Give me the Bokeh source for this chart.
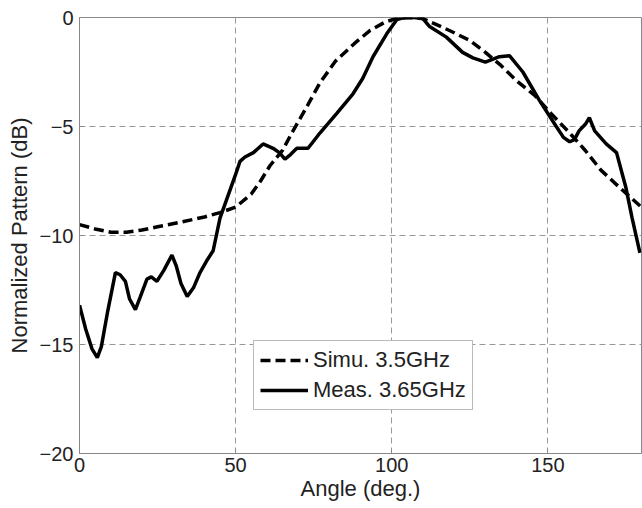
from bokeh.plotting import figure
from bokeh.models import Range1d, Legend, LegendItem, FixedTicker
from bokeh.embed import file_html
from bokeh.resources import INLINE

sim_angle = [0, 5, 10, 15, 20, 25, 32, 40, 45, 50, 55, 58, 61, 65, 68, 72, 77, 82, 88, 93, 98, 102, 106, 110, 114, 120, 125, 130, 135, 140, 146, 151, 157, 162, 167, 173, 180]
sim_db = [-9.5, -9.7, -9.85, -9.85, -9.75, -9.6, -9.4, -9.15, -8.95, -8.7, -8.1, -7.5, -6.8, -6.1, -5.3, -4.3, -3.0, -2.0, -1.2, -0.6, -0.2, -0.03, 0.0, -0.05, -0.3, -0.7, -1.05, -1.6, -2.2, -2.9, -3.6, -4.4, -5.3, -6.1, -7.0, -7.8, -8.7]

meas_angle = [0, 2, 4, 5.7, 7, 9, 11.5, 13, 14.7, 16, 17.9, 19.5, 21.6, 23, 24.8, 27, 29.6, 31, 32.5, 34.5, 36.5, 38.6, 41, 42.8, 45, 47, 50, 51.4, 53, 55.7, 58.8, 62, 64, 65.8, 67.5, 69.6, 73.2, 77, 82.4, 87.6, 90.7, 94, 98.4, 101.6, 104, 107, 110, 112, 117.5, 122.7, 126, 130, 134.5, 137.7, 142, 147.3, 152.7, 155, 157, 158.5, 160, 162, 163.3, 165, 168.7, 172, 175, 177, 179.5]
meas_db = [-13.2, -14.3, -15.2, -15.6, -15.1, -13.5, -11.7, -11.8, -12.1, -12.9, -13.4, -12.8, -12.0, -11.9, -12.1, -11.6, -10.9, -11.4, -12.2, -12.8, -12.4, -11.7, -11.1, -10.7, -9.2, -8.4, -7.2, -6.6, -6.4, -6.2, -5.8, -6.0, -6.2, -6.5, -6.3, -6.0, -6.0, -5.3, -4.4, -3.5, -2.8, -1.8, -0.75, -0.1, 0.0, 0.0, -0.05, -0.4, -0.9, -1.6, -1.85, -2.05, -1.8, -1.75, -2.5, -3.8, -5.0, -5.5, -5.7, -5.6, -5.2, -4.9, -4.6, -5.2, -5.8, -6.2, -7.8, -9.2, -10.8]

x_ticks = [0, 50, 100, 150]
y_ticks = [-20, -15, -10, -5, 0]

p = figure(width=642, height=506, output_backend="svg", toolbar_location=None,
           x_range=Range1d(0, 180), y_range=Range1d(-20, 0),
           min_border_left=79, min_border_right=1, min_border_top=17, min_border_bottom=53)

p.background_fill_color = "white"
p.border_fill_color = "white"
p.outline_line_color = "#888888"
p.outline_line_width = 1

for ax in (p.xaxis[0], p.yaxis[0]):
    ax.axis_line_color = "#888888"
    ax.major_tick_line_color = "#888888"
    ax.major_tick_in = 4
    ax.major_tick_out = 0
    ax.minor_tick_line_color = None
    ax.major_label_text_font = "Liberation Sans"
    ax.major_label_text_font_size = "20px"
    ax.major_label_text_color = "#222222"
    ax.axis_label_text_font = "Liberation Sans"
    ax.axis_label_text_font_size = "22px"
    ax.axis_label_text_font_style = "normal"
    ax.axis_label_text_color = "#222222"

p.xaxis.ticker = FixedTicker(ticks=x_ticks)
p.yaxis.ticker = FixedTicker(ticks=y_ticks)
p.xaxis.axis_label = "Angle (deg.)"
p.yaxis.axis_label = "Normalized Pattern (dB)"
p.xaxis.major_label_standoff = 4
p.yaxis.major_label_standoff = 6
p.xaxis.axis_label_standoff = 1
p.yaxis.axis_label_standoff = 5

for g in (p.xgrid[0], p.ygrid[0]):
    g.grid_line_color = "#999999"
    g.grid_line_dash = "6 4"
    g.grid_line_width = 1

r_sim = p.line(sim_angle, sim_db, line_color="black", line_width=3.5, line_dash="10 5")
r_meas = p.line(meas_angle, meas_db, line_color="black", line_width=3.5)

legend = Legend(items=[LegendItem(label="Simu. 3.5GHz", renderers=[r_sim]),
                       LegendItem(label="Meas. 3.65GHz", renderers=[r_meas])],
                location=(174, 43))
legend.label_text_font = "Liberation Sans"
legend.label_text_font_size = "22px"
legend.label_text_color = "#222222"
legend.glyph_width = 48
legend.glyph_height = 24
legend.label_height = 24
legend.spacing = 4
legend.padding = 6
legend.margin = 0
legend.label_standoff = 5
legend.border_line_color = "#777777"
legend.border_line_width = 1
legend.background_fill_alpha = 1.0
p.add_layout(legend, "center")

open("out.html", "w").write(file_html(p, INLINE))
